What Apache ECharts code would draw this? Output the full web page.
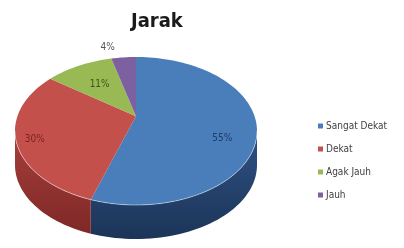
<!DOCTYPE html>
<html>
<head>
<meta charset="utf-8">
<script src="https://cdn.jsdelivr.net/npm/echarts@6/dist/echarts.min.js"></script>
<style>
  html, body { margin: 0; padding: 0; background: #fff; }
  #chart { width: 404px; height: 248px; }
</style>
</head>
<body>
<div id="chart"></div>
<script>
const categories = ['Sangat Dekat', 'Dekat', 'Agak Jauh', 'Jauh']
const values = [55, 30, 11, 4]
const pctLabels = ['55%', '30%', '11%', '4%']

const topColors = ['#4a7ebb', '#c4504c', '#98b954', '#7d60a0']
const sideColors = [['#2f5284', '#1c3458'], ['#a73f3c', '#7e2826'], ['#7a9640', '#5a7030'], ['#634a82', '#4a3662']]
const labelColors = ['#1f3b66', '#7b2322', '#3e5418', '#555555']
const labelRadius = [0.72, 0.85, 0.6, 1.2]
const labelShift = [[0, 14], [0, 4], [0, 0], [-14, 0]]

// tilted disc geometry (perspective moves the apex up a bit, like excel)
const cx = 136, cy = 131, rx = 121, ry = 74, depth = 34, persp = -0.2
const k = Math.sqrt(1 - persp * persp)
const frontFrom = Math.acos(persp) * 180 / Math.PI  // side only visible on the near half
const frontTo = 360 - frontFrom
const narrow = '"Liberation Sans Narrow", "DejaVu Sans Condensed", sans-serif'

const total = values.reduce((s, v) => s + v, 0)
const starts = []
let acc = 0
values.forEach(v => { starts.push(acc / total * 360); acc += v })

const project = (deg, r) => {
  const t = deg * Math.PI / 180
  const u = r * Math.sin(t), v = -r * Math.cos(t)
  const d = 1 + persp * v
  return [cx + rx * u * k / d, cy + ry * (v + persp) / d]
}

const arc = (a0, a1, r) => {
  const pts = []
  const n = Math.max(2, Math.ceil((a1 - a0) / 2))
  for (let j = 0; j <= n; j++) pts.push(project(a0 + (a1 - a0) * j / n, r))
  return pts
}

const makeRender = (i) => (params, api) => {
  const a0 = starts[i]
  const a1 = a0 + api.value(0) / total * 360
  const children = []

  // side wall
  const s0 = Math.max(a0, frontFrom), s1 = Math.min(a1, frontTo)
  if (s1 > s0) {
    const rim = arc(s0, s1, 1)
    const bottom = rim.map(p => [p[0], p[1] + depth]).reverse()
    children.push({
      type: 'polygon',
      z2: 1,
      shape: { points: rim.concat(bottom) },
      style: {
        fill: new echarts.graphic.LinearGradient(0, 0, 0, 1, [
          { offset: 0, color: sideColors[i][0] },
          { offset: 1, color: sideColors[i][1] }
        ])
      }
    })
    children.push({
      type: 'polyline',
      z2: 3,
      shape: { points: rim },
      style: { stroke: 'rgba(255,255,255,0.45)', lineWidth: 1, fill: null }
    })
  }

  // top face
  children.push({
    type: 'polygon',
    z2: 2,
    shape: { points: [project(0, 0)].concat(arc(a0, a1, 1)) },
    style: { fill: topColors[i] }
  })

  // percentage label
  const mid = (a0 + a1) / 2
  const lp = project(mid, labelRadius[i])
  children.push({
    type: 'text',
    z2: 4,
    x: lp[0] + labelShift[i][0],
    y: lp[1] + labelShift[i][1],
    style: {
      text: pctLabels[i],
      fill: labelColors[i],
      font: '10px ' + narrow,
      align: 'center',
      verticalAlign: 'middle'
    }
  })

  return { type: 'group', children }
}

const chart = echarts.init(document.getElementById('chart'), null, { renderer: 'canvas' })
chart.setOption({
  backgroundColor: '#ffffff',
  animation: false,
  title: {
    text: 'Jarak',
    left: 131,
    top: 12,
    padding: 0,
    textStyle: {
      fontSize: 20,
      fontWeight: 'bold',
      color: '#1a1a1a',
      fontFamily: narrow
    }
  },
  legend: {
    orient: 'vertical',
    left: 318,
    top: 121,
    padding: 0,
    itemWidth: 5,
    itemHeight: 5,
    itemGap: 13,
    icon: 'rect',
    data: categories,
    textStyle: {
      fontSize: 10,
      color: '#404040',
      padding: [0, 0, 0, -2],
      fontFamily: narrow
    }
  },
  series: categories.map((name, i) => ({
    type: 'custom',
    name,
    coordinateSystem: 'none',
    silent: true,
    itemStyle: { color: topColors[i] },
    data: [[values[i]]],
    renderItem: makeRender(i)
  }))
})
</script>
</body>
</html>
